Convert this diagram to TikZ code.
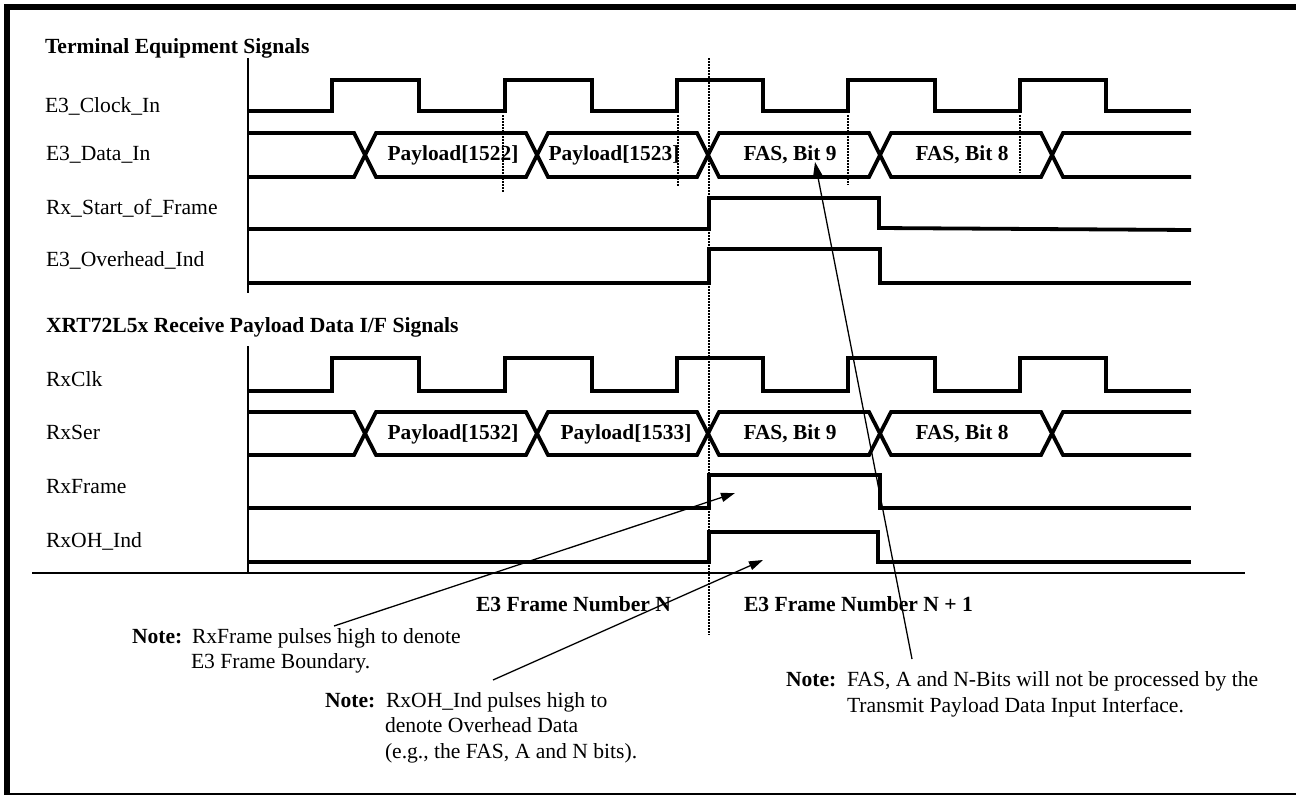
\documentclass[tikz,border=0pt]{standalone}
\usepackage{fontspec}
\setmainfont{Liberation Serif}
\usetikzlibrary{arrows.meta}
\begin{document}
\begin{tikzpicture}[x=1pt,y=-1pt,
  every node/.style={inner sep=0pt,outer sep=0pt},
  sig/.style={line width=3.8pt},
  thinline/.style={line width=1.4pt},
  dotline/.style={line width=1.5pt,dash pattern=on 1.5pt off 1.5pt},
  arr/.style={line width=1.3pt,-{Triangle[length=14pt,width=9pt]}},
  lab/.style={anchor=base west,font=\fontsize{21.6}{25}\selectfont},
  blab/.style={anchor=base west,font=\fontsize{21.6}{25}\selectfont\bfseries},
  cell/.style={anchor=base,font=\fontsize{21.4}{25}\selectfont\bfseries}]
\useasboundingbox (0,0) rectangle (1296,795);
% frame
\draw[line width=6pt] (7,795) -- (7,7) -- (1296,7);
\draw[line width=1.3pt] (7,794) -- (1296,794);
% titles
\node[blab] (t1) at (45,53) {Terminal Equipment Signals};
\node[blab] (t2) at (46,332) {XRT72L5x Receive Payload Data I/F Signals};
% labels
\node[lab] (l1) at (45,112) {E3\_Clock\_In};
\node[lab] (l2) at (46,160) {E3\_Data\_In};
\node[lab] (l3) at (46,214) {Rx\_Start\_of\_Frame};
\node[lab] (l4) at (46,266) {E3\_Overhead\_Ind};
\node[lab] (l5) at (46,386) {RxClk};
\node[lab] (l6) at (46,439) {RxSer};
\node[lab] (l7) at (46,493) {RxFrame};
\node[lab] (l8) at (46,547) {RxOH\_Ind};
% axes
\draw[thinline] (248,58) -- (248,293);
\draw[thinline] (248,346) -- (248,573);
\draw[thinline] (32,573) -- (1245,573);
% dotted
\draw[dotline] (709,58) -- (709,635);
\draw[dotline] (503,115) -- (503,192);
\draw[dotline] (678,115) -- (678,186);
\draw[dotline] (848,115) -- (848,185);
\draw[dotline] (1020,115) -- (1020,173);
% clocks
\foreach \lo/\hi in {111/80, 391/358}{
\draw[sig] (248,\lo) -- (332,\lo) -- (332,\hi) -- (419,\hi) -- (419,\lo) -- (505,\lo) -- (505,\hi) -- (592,\hi) -- (592,\lo) -- (677,\lo) -- (677,\hi) -- (763,\hi) -- (763,\lo) -- (848,\lo) -- (848,\hi) -- (935,\hi) -- (935,\lo) -- (1020,\lo) -- (1020,\hi) -- (1106,\hi) -- (1106,\lo) -- (1191,\lo);
}
% buses
\foreach \tp/\bt in {133/177, 412/455}{
\draw[sig] (248,\tp) -- (354,\tp) -- (376,\bt) -- (526,\bt) -- (548,\tp) -- (697,\tp) -- (719,\bt) -- (869,\bt) -- (891,\tp) -- (1041,\tp) -- (1063,\bt) -- (1191,\bt);
\draw[sig] (248,\bt) -- (354,\bt) -- (376,\tp) -- (526,\tp) -- (548,\bt) -- (697,\bt) -- (719,\tp) -- (869,\tp) -- (891,\bt) -- (1041,\bt) -- (1063,\tp) -- (1191,\tp);
}
% bus texts
\node[cell] (d1) at (453,160) {Payload[1522]};
\node[cell] (d2) at (614,160) {Payload[1523]};
\node[cell] (d3) at (790,160) {FAS, Bit 9};
\node[cell] (d4) at (962,160) {FAS, Bit 8};
\node[cell] (s1) at (453,439) {Payload[1532]};
\node[cell] (s2) at (626,439) {Payload[1533]};
\node[cell] (s3) at (790,439) {FAS, Bit 9};
\node[cell] (s4) at (962,439) {FAS, Bit 8};
% pulses
\draw[sig] (248,229) -- (709,229) -- (709,198) -- (879,198) -- (879,228) -- (1191,230);
\draw[sig] (248,283) -- (709,283) -- (709,249) -- (880,249) -- (880,283) -- (1191,283);
\draw[sig] (248,508) -- (709,508) -- (709,475) -- (880,475) -- (880,508) -- (1191,508);
\draw[sig] (248,562) -- (709,562) -- (709,532) -- (878,532) -- (878,562) -- (1191,562);
% frame numbers
\node[blab] (fn1) at (476,611) {E3 Frame Number N};
\node[blab] (fn2) at (744,611) {E3 Frame Number N + 1};
% notes
\node[blab] (n1a) at (132,643) {Note:};
\node[lab] (n1b) at (192,643) {RxFrame pulses high to denote};
\node[lab] (n1c) at (191,668) {E3 Frame Boundary.};
\node[blab] (n2a) at (325,707) {Note:};
\node[lab] (n2b) at (386,707) {RxOH\_Ind pulses high to};
\node[lab] (n2c) at (385,732) {denote Overhead Data};
\node[lab] (n2d) at (385,758) {(e.g., the FAS, A and N bits).};
\node[blab] (n3a) at (786,686) {Note:};
\node[lab] (n3b) at (847,686) {FAS, A and N-Bits will not be processed by the};
\node[lab] (n3c) at (847,712) {Transmit Payload Data Input Interface.};
% arrows
\coordinate (a1s) at (334,626);
\coordinate (a1e) at (735,493);
\coordinate (a2s) at (493,680);
\coordinate (a2e) at (763,560);
\coordinate (a3s) at (912,659);
\coordinate (a3e) at (815,162);
\draw[arr] (a1s) -- (a1e);
\draw[arr] (a2s) -- (a2e);
\draw[arr] (a3s) -- (a3e);
\end{tikzpicture}
\end{document}
